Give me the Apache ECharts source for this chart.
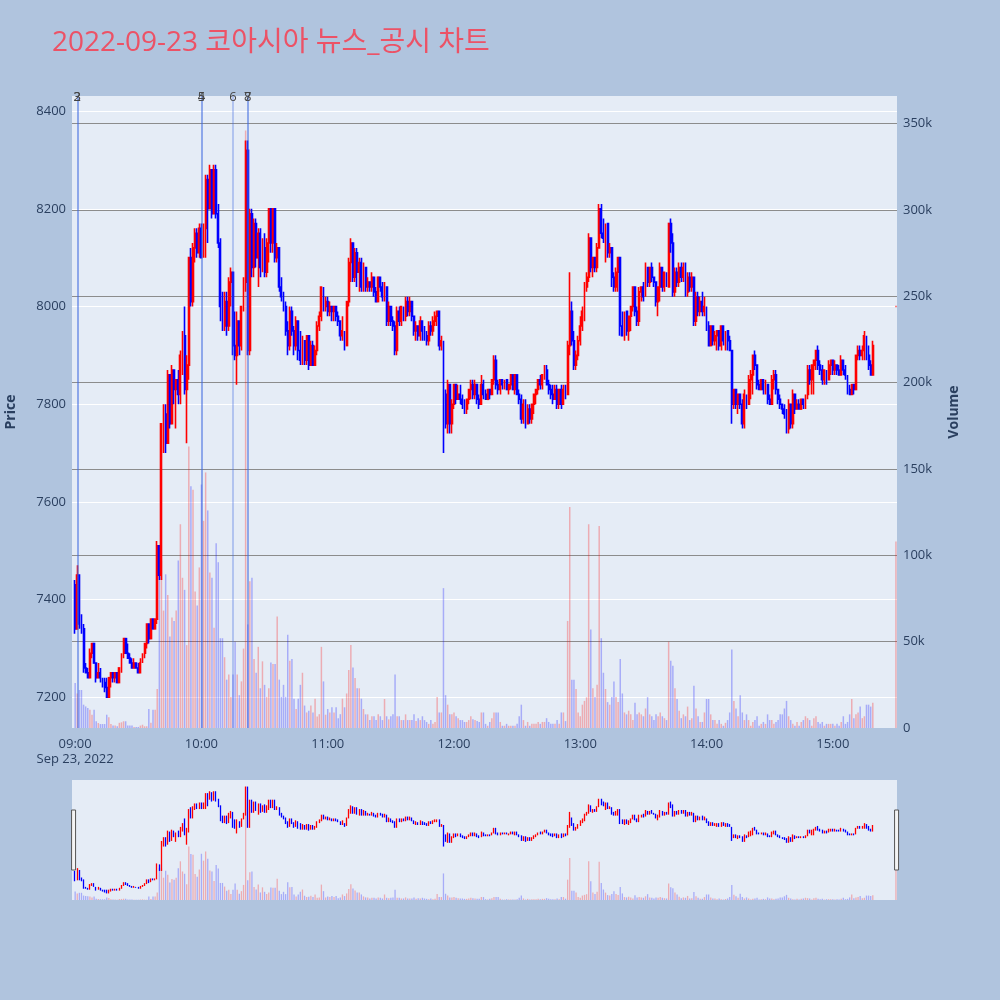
<!DOCTYPE html>
<html>
<head>
<meta charset="utf-8">
<script src="https://cdn.jsdelivr.net/npm/echarts@6/dist/echarts.min.js"></script>
<style>
html,body{margin:0;padding:0;background:#b0c4de;}
#chart{width:1000px;height:1000px;}
</style>
</head>
<body>
<div id="chart"></div>
<script>
// ---------- data ----------
const titleText = '2022-09-23 코아시아 뉴스_공시 차트';
const dateLabel = 'Sep 23, 2022';
const firstCategory = '08:59';
const lastCategory = '15:30';
const firstCandleTime = '09:00';
// [open, close, low, high] per minute from 09:00
const ohlc = [
[7430,7340,7330,7440],[7340,7450,7340,7470],[7450,7350,7340,7450],[7350,7340,7330,7370],[7340,7260,7250,7350],[7260,7250,7250,7270],[7250,7240,7240,7260],[7240,7290,7240,7300],[7290,7310,7280,7310],[7310,7270,7270,7310],
[7270,7240,7230,7270],[7240,7250,7240,7270],[7250,7240,7230,7260],[7240,7230,7220,7240],[7230,7220,7210,7240],[7220,7200,7200,7240],[7200,7240,7200,7240],[7240,7250,7220,7250],[7250,7240,7230,7250],[7240,7250,7230,7250],
[7250,7230,7230,7250],[7230,7260,7230,7260],[7260,7290,7250,7290],[7290,7320,7280,7320],[7320,7290,7290,7320],[7290,7280,7280,7310],[7280,7270,7270,7290],[7270,7260,7260,7280],[7260,7270,7260,7280],[7270,7260,7260,7270],
[7260,7250,7250,7270],[7250,7270,7250,7280],[7270,7290,7270,7290],[7290,7310,7280,7310],[7310,7350,7300,7350],[7350,7320,7310,7350],[7320,7360,7320,7360],[7360,7340,7340,7360],[7340,7360,7340,7360],[7360,7510,7350,7520],
[7510,7450,7440,7510],[7450,7760,7440,7760],[7760,7780,7700,7800],[7780,7720,7700,7800],[7720,7860,7720,7870],[7860,7760,7750,7860],[7760,7870,7760,7880],[7870,7830,7800,7870],[7830,7850,7750,7850],[7850,7820,7800,7870],
[7820,7900,7800,7910],[7900,7940,7860,7950],[7940,7830,7820,8000],[7830,7880,7720,7900],[7880,8100,7850,8100],[8100,8010,8000,8120],[8010,8120,8000,8130],[8120,8150,8090,8160],[8150,8110,8100,8160],[8110,8160,8100,8170],
[8160,8100,8100,8170],[8100,8160,8100,8170],[8160,8260,8100,8270],[8260,8200,8130,8270],[8200,8280,8200,8290],[8280,8190,8180,8280],[8190,8280,8190,8290],[8280,8190,8180,8290],[8190,8130,8120,8210],[8130,8000,7970,8140],
[8000,7960,7950,8030],[7960,8010,7950,8030],[8010,7960,7940,8030],[7960,8050,7950,8060],[8050,8070,8000,8080],[8070,7920,7900,8070],[7920,7900,7890,7990],[7900,7970,7840,7990],[7970,7920,7900,7970],[7920,8000,7910,8000],
[8000,8050,7990,8060],[8050,8320,8030,8340],[8320,7910,7900,8340],[7910,8190,7900,8200],[8190,8080,8060,8200],[8080,8170,8060,8180],[8170,8100,8080,8180],[8100,8150,8040,8160],[8150,8080,8060,8160],[8080,8120,8070,8140],
[8120,8070,8060,8150],[8070,8130,8060,8140],[8130,8200,8090,8200],[8200,8130,8110,8200],[8130,8200,8110,8200],[8200,8100,8090,8200],[8100,8120,8090,8130],[8120,8040,8030,8120],[8040,8020,8010,8060],[8020,8000,7990,8030],
[8000,7950,7940,8010],[7950,7920,7900,7970],[7920,7990,7910,8000],[7990,7950,7940,8000],[7950,7920,7900,7960],[7920,7970,7910,7980],[7970,7910,7890,7970],[7910,7890,7880,7950],[7890,7930,7880,7940],[7930,7890,7880,7930],
[7890,7940,7880,7940],[7940,7880,7870,7940],[7880,7920,7880,7930],[7920,7880,7880,7930],[7880,7910,7880,7920],[7910,7960,7900,7970],[7960,7980,7950,7990],[7980,8040,7970,8040],[8040,8000,7990,8040],[8000,8010,7990,8020],
[8010,7990,7980,8020],[7990,8000,7980,8010],[8000,7990,7970,8000],[7990,8000,7970,8000],[8000,7980,7970,8000],[7980,7970,7960,7990],[7970,7940,7930,7970],[7940,7950,7930,7980],[7950,7920,7910,7950],[7920,8010,7920,8010],
[8010,8090,8000,8100],[8090,8130,8050,8140],[8130,8060,8050,8130],[8060,8110,8050,8120],[8110,8070,8040,8120],[8070,8090,8030,8100],[8090,8040,8030,8100],[8040,8080,8030,8090],[8080,8040,8030,8080],[8040,8050,8030,8060],
[8050,8040,8030,8050],[8040,8060,8030,8070],[8060,8030,8020,8060],[8030,8010,8010,8040],[8010,8060,8010,8060],[8060,8040,8030,8060],[8040,8020,8010,8050],[8020,8040,8010,8050],[8040,7970,7960,8040],[7970,8000,7960,8010],
[8000,7970,7960,8000],[7970,7960,7950,7980],[7960,7910,7900,7970],[7910,7990,7900,8000],[7990,7970,7960,8000],[7970,8000,7960,8000],[8000,7980,7970,8000],[7980,8010,7970,8020],[8010,7990,7980,8020],[7990,8010,7980,8020],
[8010,7980,7970,8010],[7980,7950,7940,7980],[7950,7960,7930,7970],[7960,7940,7930,7960],[7940,7970,7930,7980],[7970,7950,7930,7970],[7950,7940,7930,7960],[7940,7930,7920,7950],[7930,7960,7920,7970],[7960,7950,7940,7970],
[7950,7970,7940,7980],[7970,7980,7960,7990],[7980,7990,7960,7990],[7990,7920,7910,7990],[7920,7930,7910,7940],[7930,7820,7700,7930],[7820,7760,7750,7830],[7760,7840,7740,7850],[7840,7760,7740,7840],[7760,7800,7740,7810],
[7800,7840,7790,7840],[7840,7810,7800,7840],[7810,7820,7810,7840],[7820,7810,7800,7840],[7810,7800,7790,7820],[7800,7790,7780,7810],[7790,7810,7780,7810],[7810,7830,7800,7830],[7830,7840,7810,7850],[7840,7820,7810,7850],
[7820,7840,7810,7850],[7840,7810,7800,7840],[7810,7800,7790,7820],[7800,7840,7800,7860],[7840,7820,7810,7850],[7820,7810,7810,7830],[7810,7830,7810,7830],[7830,7820,7810,7830],[7820,7850,7820,7850],[7850,7890,7840,7900],
[7890,7840,7830,7900],[7840,7830,7820,7850],[7830,7850,7820,7850],[7850,7840,7830,7850],[7840,7850,7830,7850],[7850,7830,7830,7850],[7830,7840,7820,7840],[7840,7860,7830,7860],[7860,7830,7830,7860],[7830,7860,7820,7860],
[7860,7820,7820,7860],[7820,7810,7800,7830],[7810,7770,7760,7820],[7770,7800,7760,7810],[7800,7760,7750,7810],[7760,7790,7760,7800],[7790,7770,7760,7800],[7770,7800,7760,7800],[7800,7820,7780,7820],[7820,7830,7800,7830],
[7830,7850,7820,7850],[7850,7840,7830,7860],[7840,7860,7830,7860],[7860,7870,7850,7880],[7870,7840,7840,7880],[7840,7830,7820,7850],[7830,7820,7810,7840],[7820,7810,7800,7840],[7810,7830,7810,7840],[7830,7800,7790,7840],
[7800,7830,7790,7830],[7830,7800,7790,7840],[7800,7830,7800,7840],[7830,7820,7810,7840],[7820,7920,7820,7930],[7920,7990,7900,8070],[7990,7930,7920,8010],[7930,7880,7870,7950],[7880,7900,7870,7910],[7900,7930,7890,7940],
[7930,7960,7920,7980],[7960,7990,7950,8000],[7990,8040,7970,8050],[8040,8060,8030,8070],[8060,8140,8050,8150],[8140,8080,8070,8140],[8080,8100,8060,8100],[8100,8080,8070,8100],[8080,8120,8070,8130],[8120,8200,8120,8210],
[8200,8150,8140,8210],[8150,8140,8130,8180],[8140,8170,8090,8170],[8170,8110,8100,8170],[8110,8120,8100,8130],[8120,8060,8040,8120],[8060,8040,8030,8070],[8040,8070,8030,8080],[8070,8100,8030,8100],[8100,7960,7940,8100],
[7960,7940,7940,7990],[7940,7990,7930,7990],[7990,7950,7940,7990],[7950,7980,7930,7980],[7980,8000,7950,8000],[8000,8040,7990,8040],[8040,7990,7980,8040],[7990,7970,7960,8000],[7970,8030,7960,8040],[8030,8040,8010,8040],
[8040,8020,8010,8050],[8020,8080,8020,8090],[8080,8050,8040,8080],[8050,8080,8040,8080],[8080,8060,8050,8090],[8060,8050,8040,8060],[8050,8010,8000,8050],[8010,8040,7980,8040],[8040,8080,8010,8090],[8080,8040,8030,8080],
[8040,8070,8030,8070],[8070,8040,8040,8070],[8040,8170,8040,8170],[8170,8130,8110,8180],[8130,8030,8020,8150],[8030,8070,8020,8080],[8070,8050,8040,8080],[8050,8080,8040,8090],[8080,8060,8050,8090],[8060,8080,8050,8090],
[8080,8030,8020,8090],[8030,8060,8020,8070],[8060,8040,8030,8070],[8040,8060,8030,8070],[8060,7970,7960,8060],[7970,8020,7960,8030],[8020,7990,7980,8030],[7990,8010,7980,8020],[8010,7990,7980,8030],[7990,8000,7980,8020],
[8000,7960,7950,8000],[7960,7920,7920,7970],[7920,7960,7920,7960],[7960,7930,7920,7960],[7930,7940,7920,7950],[7940,7950,7910,7950],[7950,7920,7910,7950],[7920,7960,7910,7960],[7960,7930,7920,7960],[7930,7950,7910,7950],
[7950,7930,7910,7950],[7930,7910,7910,7940],[7910,7800,7760,7910],[7800,7830,7790,7830],[7830,7800,7790,7830],[7800,7820,7780,7820],[7820,7800,7790,7820],[7800,7760,7750,7810],[7760,7820,7750,7830],[7820,7800,7790,7820],
[7800,7850,7800,7860],[7850,7860,7810,7870],[7860,7900,7820,7900],[7900,7880,7870,7910],[7880,7840,7830,7880],[7840,7830,7830,7850],[7830,7850,7830,7850],[7850,7830,7820,7850],[7830,7840,7820,7850],[7840,7810,7800,7840],
[7810,7800,7800,7820],[7800,7850,7800,7860],[7850,7860,7830,7870],[7860,7830,7820,7870],[7830,7810,7800,7830],[7810,7800,7790,7820],[7800,7790,7780,7800],[7790,7780,7770,7800],[7780,7750,7740,7790],[7750,7800,7740,7810],
[7800,7760,7750,7800],[7760,7820,7750,7830],[7820,7790,7780,7820],[7790,7800,7790,7810],[7800,7790,7790,7810],[7790,7810,7790,7810],[7810,7800,7790,7810],[7800,7820,7790,7820],[7820,7870,7810,7880],[7870,7850,7840,7880],
[7850,7880,7820,7880],[7880,7890,7820,7890],[7890,7910,7870,7910],[7910,7880,7870,7920],[7880,7870,7860,7890],[7870,7850,7840,7880],[7850,7870,7840,7870],[7870,7850,7840,7870],[7850,7880,7850,7890],[7880,7890,7860,7890],
[7890,7870,7860,7890],[7870,7880,7860,7890],[7880,7870,7860,7880],[7870,7860,7860,7880],[7860,7890,7860,7900],[7890,7870,7860,7890],[7870,7860,7850,7880],[7860,7830,7820,7860],[7830,7820,7820,7840],[7820,7840,7820,7840],
[7840,7830,7820,7840],[7830,7900,7830,7900],[7900,7910,7890,7920],[7910,7900,7890,7920],[7900,7910,7890,7920],[7910,7940,7890,7950],[7940,7900,7890,7940],[7900,7880,7870,7920],[7880,7860,7860,7890],[7860,7920,7860,7930]
];
// volume per minute from 09:00, in thousands of shares
const volumeK = [
26,20,22,22,13.5,12.5,11.6,10.6,7.7,10.6,
3.9,2.9,2.3,2.3,2.3,7.7,6.2,2.3,1.4,1.4,
1,3,3.3,3.9,3.9,1.5,1.5,1.5,0.6,0.6,
0.6,1.4,1.9,1,1,11,3,10.6,10.5,22.6,
98,97,68,89,77,53,64,62,68,97,
118,87,80,48,163,140,138,79,71,93,
141,120,148,126,90,87,58,107,96,52,
52,41,28,31,18,31,50,31,19,27,
46,346,60,85,87,40,32,47,23,38.6,
25,18,23,38,37,37,64.6,28,18,25,
18,54,39,40,17,11,17,25,32,13,
9,10,13,9,17,6.6,8,47,27,7.7,
11,9,12,9,12,5.7,8,17,12,20,
33.6,48,35,29,23,23,17,11,7.9,7.9,
4.6,6.8,6.8,4.6,7.9,6.8,4.6,16.8,6.8,5,
6.8,7.9,31,6.8,6.8,4.6,4.6,7.9,4.6,4.6,
4.6,7.9,4,5.7,4.6,6.8,4.6,3.5,2.4,4.6,
2.4,3.5,18,9,9,81,19,13.5,7.9,7.9,
9,6.8,5.7,4.6,4.6,3.5,3.5,4.6,6.8,5,
4.6,4,3.5,9,9,2.4,1.3,3.5,5.7,9,
9,9,3.5,1.3,1.3,2.4,1.3,1.3,1.3,1.3,
2.4,6.8,13.5,4.6,1.3,3.5,1.3,2.4,2.4,2.4,
3.5,2.4,3.5,3.5,5.7,3.5,2.4,2.4,2.4,4.6,
2.4,9,9,4,62,128,28,28,22.6,9,
6.8,13.5,15.7,17.8,118,57,23,18,25,117,
52,32,22.6,15,13.5,18,27,18,15,40,
20,9,7.9,10,7.9,4.6,14.6,7.9,9,7.9,
6.8,11.3,17.9,7.9,6.8,4.6,7.9,6.8,9,6.8,
5.7,4.6,50,39,36,23,16.8,10,5.7,7.9,
6.8,12.4,4.6,5.7,24.5,11.3,6.8,3.5,3.5,9,
16.8,16.8,7.9,4.6,4.6,2.4,4.6,2.4,1.3,3,
4.6,9,45.5,15.7,11.3,6.8,19,9,4.6,7.9,
4.6,1.3,3.5,4.6,6.8,1.3,2.4,3.5,2.4,7.9,
4.6,4.6,2.4,3.5,4.6,7.9,7.9,11.3,15.7,6.8,
4.6,2.4,1.3,3.5,1.3,3.5,4.6,6.8,5.7,4.6,
1.3,5.7,6.8,3.5,2.4,3.5,1.3,2.4,2.4,2.4,
2.4,1.3,2.4,1.3,3.5,6.8,2.4,3.5,7.9,16.8,
5.7,7.9,9,12.4,5.7,6.8,13.5,13.5,12.4,14.6
];
// closing auction
const auctionTime = '15:30';
const auctionOHLC = [8000,8000,8000,8000];
const auctionVolumeK = 108;
// news / disclosure markers
const newsTimes  = ['09:01','09:01','10:00','10:00','10:15','10:22','10:22'];
const newsLabels = ['2','3','4','5','6','7','8'];
// axis ranges / ticks
const priceRange = [7137, 8431];
const priceTickStep = 200;
const volumeRangeK = [0, 366];
const volumeTickStepK = 50;
const miniPriceRange = [7130, 8410];

// ---------- build ----------
function toMin(s){const p=s.split(':');return (+p[0])*60+(+p[1]);}
function toStr(m){const h=Math.floor(m/60),mm=m%60;return (h<10?'0':'')+h+':'+(mm<10?'0':'')+mm;}
const categories=[];
for(let m=toMin(firstCategory);m<=toMin(lastCategory);m++) categories.push(toStr(m));

const UP='#ff0000', DOWN='#0000ff';
const UPV='rgba(255,0,0,0.27)', DOWNV='rgba(0,0,255,0.27)';
const candleData=categories.map(()=>['-','-','-','-']);
const volData=categories.map(()=>'-');
const startIdx=categories.indexOf(firstCandleTime);
let prevClose=null;
function isUp(o,c,pc){ if(c>o) return true; if(c<o) return false; return pc==null || c>=pc; }
ohlc.forEach((d,i)=>{
  const idx=startIdx+i;
  candleData[idx]=d;
  volData[idx]={value:volumeK[i],itemStyle:{color:isUp(d[0],d[1],prevClose)?UPV:DOWNV}};
  prevClose=d[1];
});
const aIdx=categories.indexOf(auctionTime);
const aUp=isUp(auctionOHLC[0],auctionOHLC[1],prevClose);
candleData[aIdx]={value:auctionOHLC,itemStyle:{color:aUp?UP:DOWN,borderColor:aUp?UP:DOWN,color0:aUp?UP:DOWN,borderColor0:aUp?UP:DOWN}};
volData[aIdx]={value:auctionVolumeK,itemStyle:{color:aUp?UPV:DOWNV}};

const FONT='"Open Sans", "Noto Sans CJK KR", "DejaVu Sans", sans-serif';
const TXT='#2a3f5f';

const chart=echarts.init(document.getElementById('chart'),null,{renderer:'canvas'});
const option={
  animation:false,
  backgroundColor:'#b0c4de',
  textStyle:{fontFamily:FONT},
  title:{text:titleText,left:47,top:24,textStyle:{color:'#ec5266',fontSize:28,fontWeight:'normal',fontFamily:FONT}},
  grid:[
    {left:72,right:103,top:96,bottom:272,show:true,backgroundColor:'#e5ecf6',borderWidth:0,containLabel:false,outerBoundsMode:'none'},
    {left:72,right:103,top:780,height:120,show:true,backgroundColor:'#e5ecf6',borderWidth:0,containLabel:false,outerBoundsMode:'none'}
  ],
  xAxis:[
    {type:'category',gridIndex:0,data:categories,boundaryGap:true,
     axisLine:{show:false},axisTick:{show:false},splitLine:{show:false},
     axisLabel:{color:TXT,fontSize:13,margin:9,lineHeight:15,fontFamily:FONT,
       interval:(i,v)=>v.slice(3)==='00',
       formatter:v=>v===firstCandleTime?v+'\n'+dateLabel:v}},
    {type:'category',gridIndex:1,data:categories,boundaryGap:true,show:false}
  ],
  yAxis:[
    {type:'value',gridIndex:0,position:'left',min:priceRange[0],max:priceRange[1],splitNumber:6,
     name:'Price',nameLocation:'middle',nameGap:54,nameTextStyle:{color:TXT,fontSize:14,fontWeight:'bold',fontFamily:FONT},
     axisLine:{show:false},axisTick:{show:false},
     axisLabel:{color:TXT,fontSize:13,margin:6,fontFamily:FONT,formatter:v=>(v%priceTickStep===0?String(v):'')},
     splitLine:{show:true,showMinLine:false,showMaxLine:false,lineStyle:{color:'#ffffff',width:1.2}}},
    {type:'value',gridIndex:0,position:'right',min:volumeRangeK[0],max:volumeRangeK[1],interval:volumeTickStepK,
     name:'Volume',nameLocation:'middle',nameGap:50,nameTextStyle:{color:TXT,fontSize:14,fontWeight:'bold',fontFamily:FONT},
     axisLine:{show:false},axisTick:{show:false},
     axisLabel:{color:TXT,fontSize:13,margin:6,fontFamily:FONT,formatter:v=>(v%volumeTickStepK!==0?'':(v===0?'0':v+'k'))},
     splitLine:{show:true,showMinLine:false,showMaxLine:false,lineStyle:{color:'#8c8c8c',width:1.2}}},
    {type:'value',gridIndex:1,min:miniPriceRange[0],max:miniPriceRange[1],show:false,splitLine:{show:false}},
    {type:'value',gridIndex:1,min:volumeRangeK[0],max:volumeRangeK[1],show:false,splitLine:{show:false}}
  ],
  dataZoom:[{
    type:'slider',xAxisIndex:[0],filterMode:'none',start:0,end:100,
    left:72,right:103,top:780,height:120,
    backgroundColor:'rgba(0,0,0,0)',borderColor:'rgba(0,0,0,0)',fillerColor:'rgba(0,0,0,0)',
    showDataShadow:false,showDetail:false,brushSelect:false,moveHandleSize:0,
    handleIcon:'path://M0,0H4V60H0Z',handleSize:60,
    handleStyle:{color:'#f4f4f4',borderColor:'#555',borderWidth:1},
    emphasis:{handleStyle:{color:'#f4f4f4',borderColor:'#555',borderWidth:1}},
    z:20
  }],
  series:[
    {type:'bar',name:'Volume',xAxisIndex:0,yAxisIndex:1,data:volData,barWidth:1.5,z:2,silent:true},
    {type:'candlestick',name:'Price',xAxisIndex:0,yAxisIndex:0,data:candleData,barWidth:1.4,z:3,
     itemStyle:{color:UP,color0:DOWN,borderColor:UP,borderColor0:DOWN,borderWidth:1.6},
     markLine:{silent:true,symbol:['none','none'],animation:false,
       lineStyle:{color:'rgba(65,105,225,0.42)',width:1.5,type:'solid'},
       label:{show:true,position:'end',distance:-8,color:'#444',fontSize:13,fontFamily:FONT,formatter:'{b}'},
       emphasis:{disabled:true},
       data:newsTimes.map((t,i)=>({xAxis:t,name:newsLabels[i]}))}},
    {type:'bar',xAxisIndex:1,yAxisIndex:3,data:volData,barWidth:1.3,z:2,silent:true},
    {type:'candlestick',xAxisIndex:1,yAxisIndex:2,data:candleData,barWidth:1.1,z:3,silent:true,
     itemStyle:{color:UP,color0:DOWN,borderColor:UP,borderColor0:DOWN,borderWidth:1.3}}
  ]
};
chart.setOption(option);
</script>
</body>
</html>
